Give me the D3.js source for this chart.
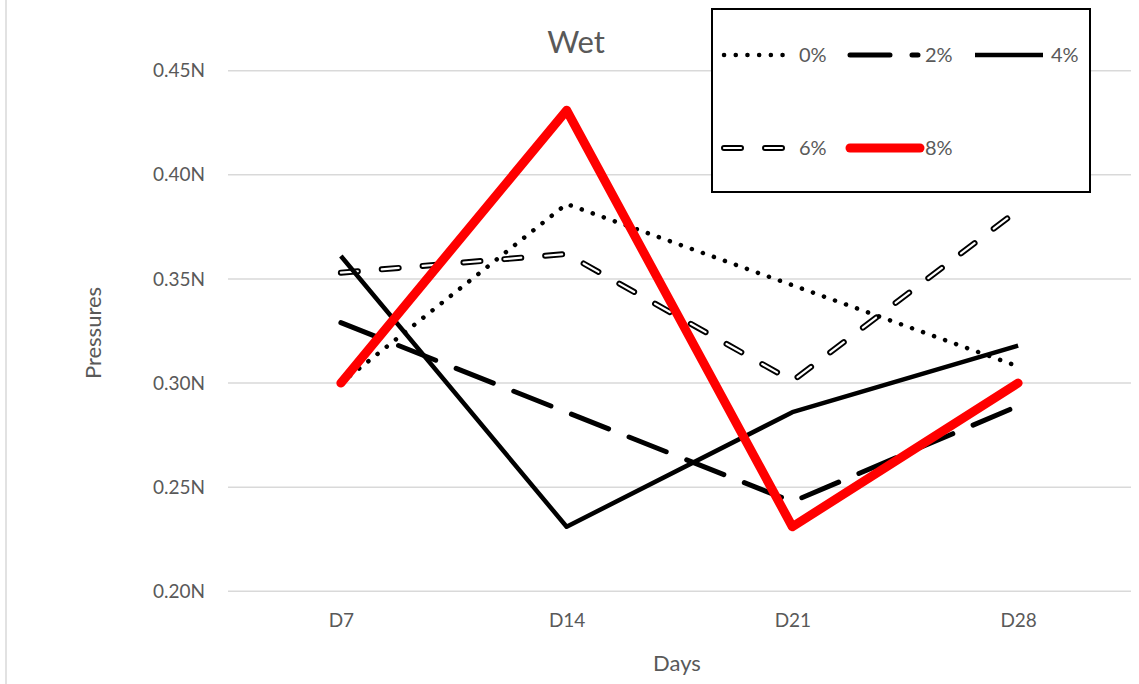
<!DOCTYPE html>
<html><head><meta charset="utf-8">
<script src="https://cdn.jsdelivr.net/npm/d3@7"></script>
<style>body{margin:0;background:#fff}svg{display:block}text{font-family:Lato,"Open Sans",sans-serif}</style>
</head><body>
<svg id="c" width="1139" height="684"></svg>
<script>
const categories = ["D7","D14","D21","D28"];
const seriesNames = ["0%","2%","4%","6%","8%"];
const s0 = [0.300,0.386,0.347,0.308];
const s2 = [0.329,0.286,0.243,0.289];
const s4 = [0.361,0.231,0.286,0.318];
const s6 = [0.353,0.362,0.301,0.383];
const s8 = [0.300,0.431,0.231,0.300];
const yTicks = [0.20,0.25,0.30,0.35,0.40,0.45];
const title = "Wet", xTitle = "Days", yTitle = "Pressures";

const svg = d3.select("#c");
const L=228,R=1131,T=70.7,B=591.3;
const x = d3.scalePoint().domain(categories).range([L,R]).padding(0.5);
const y = d3.scaleLinear().domain([0.20,0.45]).range([B,T]);

svg.append("line").attr("x1",6).attr("x2",6).attr("y1",0).attr("y2",684).attr("stroke","#d9d9d9").attr("stroke-width",1.5);

svg.append("g").selectAll("line").data(yTicks).join("line")
  .attr("x1",L).attr("x2",R).attr("y1",d=>y(d)).attr("y2",d=>y(d))
  .attr("stroke","#d9d9d9").attr("stroke-width",1.5);

const ya = svg.append("g").attr("transform",`translate(${L},0)`)
  .call(d3.axisLeft(y).tickValues(yTicks).tickSize(0).tickPadding(23).tickFormat(d=>d3.format(".2f")(d)+"N"));
ya.select(".domain").remove();
ya.selectAll("text").attr("fill","#595959").style("font-size","19px").style("font-family","Lato,'Open Sans',sans-serif");

const xa = svg.append("g").attr("transform",`translate(0,${B})`)
  .call(d3.axisBottom(x).tickSize(0).tickPadding(22));
xa.select(".domain").remove();
xa.selectAll("text").attr("fill","#595959").style("font-size","19px").style("font-family","Lato,'Open Sans',sans-serif");

svg.append("text").attr("x",576).attr("y",53).attr("text-anchor","middle").attr("fill","#595959").style("font-size","31px").text(title);
svg.append("text").attr("x",677).attr("y",671).attr("text-anchor","middle").attr("fill","#595959").style("font-size","22px").text(xTitle);
svg.append("text").attr("transform","translate(101,333) rotate(-90)").attr("text-anchor","middle").attr("fill","#595959").style("font-size","22px").text(yTitle);

const styles = {
  "0%":[{stroke:"#000",w:4.5,dash:"0.1,11.6",cap:"round"}],
  "2%":[{stroke:"#000",w:5,dash:"40,22",cap:"round"}],
  "4%":[{stroke:"#000",w:4.5,dash:null,cap:"butt"}],
  "6%":[{stroke:"#000",w:6,dash:"17,24",cap:"round"},{stroke:"#fff",w:2.2,dash:"17,24",cap:"round"}],
  "8%":[{stroke:"#ff0000",w:9,dash:null,cap:"round"}]
};
const data = {"0%":s0,"2%":s2,"4%":s4,"6%":s6,"8%":s8};
const line = d3.line().x((d,i)=>x(categories[i])).y(d=>y(d));
const drawOrder = ["6%","2%","0%","4%","8%"];
drawOrder.forEach(n=>{
  styles[n].forEach(st=>{
    svg.append("path").attr("d",line(data[n])).attr("fill","none")
      .attr("stroke",st.stroke).attr("stroke-width",st.w)
      .attr("stroke-dasharray",st.dash).attr("stroke-linecap",st.cap).attr("stroke-linejoin","round");
  });
});

svg.append("rect").attr("x",712).attr("y",9).attr("width",378).attr("height",183).attr("fill","#fff").attr("stroke","#000").attr("stroke-width",2);
const leg = [
  {n:"0%",x1:724,x2:786,ty:55,tx:799},
  {n:"2%",x1:850,x2:918,ty:55,tx:925},
  {n:"4%",x1:975,x2:1043,ty:55,tx:1051},
  {n:"6%",x1:724,x2:786,ty:148,tx:799},
  {n:"8%",x1:850,x2:920,ty:148,tx:925}
];
leg.forEach(l=>{
  styles[l.n].forEach(st=>{
    svg.append("line").attr("x1",l.x1).attr("x2",l.x2).attr("y1",l.ty).attr("y2",l.ty)
      .attr("stroke",st.stroke).attr("stroke-width",st.w)
      .attr("stroke-dasharray",st.dash).attr("stroke-linecap",st.cap);
  });
  svg.append("text").attr("x",l.tx).attr("y",l.ty+7).attr("fill","#595959").style("font-size","20px").text(l.n);
});
</script>
</body></html>
